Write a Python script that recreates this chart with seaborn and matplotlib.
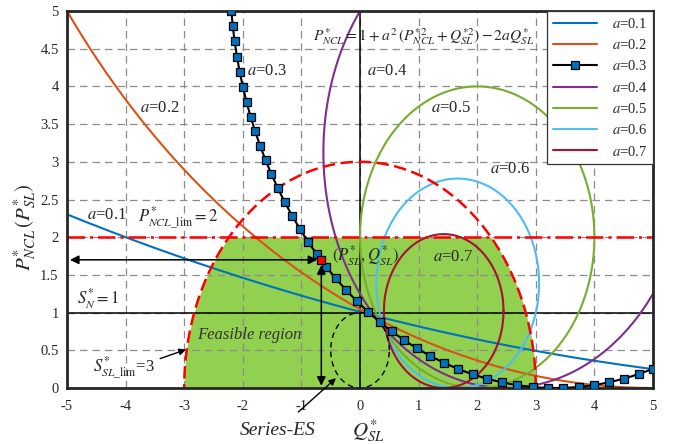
import numpy as np
import pandas as pd
import matplotlib
matplotlib.use("Agg")
import matplotlib.pyplot as plt
import seaborn as sns

# ---- values ------------------------------------------------------------
# coefficient a of the NCL power relation P = 1 + a^2 (P^2 + Q^2) - 2 a Q
a_values = [0.1, 0.2, 0.3, 0.4, 0.5, 0.6, 0.7]
a_labels = ["0.1", "0.2", "0.3", "0.4", "0.5", "0.6", "0.7"]

# limits of the series-connected storage
p_ncl_lim = 2.0      # P*_NCL_lim
s_sl_lim = 3.0       # S*_SL_lim
s_n = 1.0            # S*_N

# operating point (Q*_SL, P*_SL) on the a = 0.3 curve
op_q = -0.66
op_p = 1.70

# Series-ES capability circle
es_center = (0.0, 0.5)
es_radius = 0.5

x_ticks = [-5, -4, -3, -2, -1, 0, 1, 2, 3, 4, 5]
x_tick_labels = ["-5", "-4", "-3", "-2", "-1", "0", "1", "2", "3", "4", "5"]
y_ticks = [0, 0.5, 1, 1.5, 2, 2.5, 3, 3.5, 4, 4.5, 5]
y_tick_labels = ["0", "0.5", "1", "1.5", "2", "2.5", "3", "3.5", "4", "4.5", "5"]

# ---- styling -----------------------------------------------------------
sns.set_style("white")
plt.rcParams["font.family"] = ["Liberation Serif", "DejaVu Serif"]
plt.rcParams["mathtext.fontset"] = "stix"

curve_colors = ["#0072BD", "#D95319", "#000000", "#7E2F8E",
                "#77AC30", "#4DBEEE", "#A2142F"]
text_color = "#262626"

fig = plt.figure(figsize=(6.82, 4.44), dpi=100)
ax = fig.add_axes([67 / 682, 1 - 388 / 444, 586 / 682, 377 / 444])
ax.set_xlim(-5, 5)
ax.set_ylim(0, 5)

# ---- feasible region ---------------------------------------------------
qf = np.linspace(-s_sl_lim, s_sl_lim, 1201)
upper = np.minimum(p_ncl_lim, np.sqrt(np.clip(s_sl_lim ** 2 - qf ** 2, 0, None)))
ax.fill_between(qf, 0, upper, color="#92D050", lw=0, zorder=0.2)

# ---- grid --------------------------------------------------------------
ax.set_axisbelow(True)
ax.grid(True, color="#8c8c8c", lw=0.9, linestyle=(0, (6, 4)))

# reference lines
ax.axhline(s_n, color="black", lw=1.1, zorder=1.5)
ax.axvline(0, color="black", lw=1.1, zorder=1.5)

# ---- NCL curves: circles centred at (1/a, 1/(2a^2)) with radius 1/(2a^2)
for a, lab, col in zip(a_values, a_labels, curve_colors):
    cq, cp, r = 1.0 / a, 1.0 / (2 * a * a), 1.0 / (2 * a * a)
    if r > 3.5:
        # only the lower branch lies inside the window
        lo = max(-5.0, cq - np.sqrt(max(r ** 2 - (5 - cp) ** 2, 0)))
        hi = min(5.0, cq + r)
        q = np.linspace(lo, hi, 3000)
        p = cp - np.sqrt(np.clip(r ** 2 - (q - cq) ** 2, 0, None))
    else:
        th = np.linspace(0, 2 * np.pi, 1500)
        q = cq + r * np.cos(th)
        p = cp + r * np.sin(th)
    df = pd.DataFrame({"q": q, "p": p})
    if a == 0.3:
        sns.lineplot(data=df, x="q", y="p", sort=False, estimator=None, ax=ax,
                     color="black", lw=1.5, marker="s", markersize=5.8,
                     markerfacecolor="#0072BD", markeredgecolor="black",
                     markeredgewidth=0.9, label=r"$a$=" + lab, zorder=3)
        line = ax.lines[-1]
        pts = ax.transData.transform(np.column_stack([q, p]))
        arc = np.sum(np.hypot(*np.diff(pts, axis=0).T))
        diag = np.hypot(*(ax.transAxes.transform([1, 1]) - ax.transAxes.transform([0, 0])))
        n_marks = int(round(arc / 15.3))
        line.set_markevery(arc / n_marks * 0.9999 / diag)
    else:
        sns.lineplot(data=df, x="q", y="p", sort=False, estimator=None, ax=ax,
                     color=col, lw=1.5, label=r"$a$=" + lab, zorder=2)

# limit circle S*_SL_lim and limit line P*_NCL_lim
th = np.linspace(0, np.pi, 600)
ax.plot(s_sl_lim * np.cos(th), s_sl_lim * np.sin(th), color="red", lw=1.8,
        linestyle=(0, (5, 2.2)), zorder=2.5)
ax.axhline(p_ncl_lim, color="red", lw=1.8, linestyle=(0, (7, 2, 1.2, 2)), zorder=2.5)

# Series-ES circle
th2 = np.linspace(0, 2 * np.pi, 400)
ax.plot(es_center[0] + es_radius * np.cos(th2), es_center[1] + es_radius * np.sin(th2),
        color="black", lw=1.0, linestyle=(0, (4, 3)), zorder=2.5)

# operating point with its coordinates
ax.plot([op_q], [op_p], marker="s", markersize=5.8, markerfacecolor="red",
        markeredgecolor="black", markeredgewidth=0.9, zorder=4)
arrow_kw = dict(arrowstyle="<|-|>", color="black", lw=1.1, mutation_scale=13,
                shrinkA=0, shrinkB=0)
ax.annotate("", xy=(op_q - 0.07, op_p), xytext=(-4.95, op_p), arrowprops=arrow_kw, zorder=3)
ax.annotate("", xy=(op_q, op_p - 0.07), xytext=(op_q, 0.03), arrowprops=arrow_kw, zorder=3)

# ---- labels ------------------------------------------------------------
fs = 12
label_pos = {"0.1": (-4.66, 2.30), "0.2": (-3.75, 3.72), "0.3": (-1.93, 4.20),
             "0.4": (0.12, 4.20), "0.5": (1.21, 3.72), "0.6": (2.22, 2.90),
             "0.7": (1.25, 1.74)}
for lab in a_labels:
    x, y = label_pos[lab]
    ax.text(x, y, r"$a$=" + lab, fontsize=fs, color=text_color, ha="left", va="center", zorder=5)

ax.text(-0.80, 4.66, r"$P^{*}_{NCL}=1+a^{2}\,(P^{*2}_{NCL}+Q^{*2}_{SL})-2aQ^{*}_{SL}$",
        fontsize=11.2, color=text_color, ha="left", va="center", zorder=5)
ax.text(-3.79, 2.25, r"$P^{*}_{NCL\_\mathrm{lim}}=2$", fontsize=fs, color=text_color,
        ha="left", va="center", zorder=5)
ax.text(-4.83, 1.19, r"$S^{*}_{N}=1$", fontsize=fs, color=text_color,
        ha="left", va="center", zorder=5)
ax.text(-2.78, 0.70, "Feasible region", fontsize=fs, style="italic", color="#333333",
        ha="left", va="center", zorder=5)
ax.text(-4.56, 0.26, r"$S^{*}_{SL\_\mathrm{lim}}$=3", fontsize=fs, color=text_color,
        ha="left", va="center", zorder=5)
ax.text(-0.48, 1.76, r"$(P^{*}_{SL},Q^{*}_{SL})$", fontsize=fs, color=text_color,
        ha="left", va="center", zorder=5)

small_arrow = dict(arrowstyle="-|>", color="black", lw=1.0, mutation_scale=10,
                   shrinkA=0, shrinkB=0)
ax.annotate("", xy=(-2.97, 0.51), xytext=(-3.41, 0.39), arrowprops=small_arrow, zorder=5)
ax.annotate("Series-ES", xy=(-0.41, 0.13), xytext=(-1.40, -0.56),
            textcoords="data", fontsize=14, style="italic", color=text_color,
            ha="center", va="center", annotation_clip=False,
            arrowprops=dict(arrowstyle="-|>", color="black", lw=1.0, mutation_scale=10,
                            shrinkA=7, shrinkB=0), zorder=5)

ax.set_xlabel("")
ax.set_ylabel("")
ax.text(0.14, -0.56, r"$Q^{*}_{SL}$", fontsize=15, color=text_color,
        ha="center", va="center", clip_on=False)
fig.text(25 / 682, 1 - 227 / 444, r"$P^{*}_{NCL}\,(P^{*}_{SL})$", fontsize=15,
         color=text_color, rotation=90, ha="center", va="center")

# ---- axes cosmetics ----------------------------------------------------
ax.set_xticks(x_ticks)
ax.set_xticklabels(x_tick_labels)
ax.set_yticks(y_ticks)
ax.set_yticklabels(y_tick_labels)
ax.tick_params(axis="both", direction="in", length=3, width=0.8, labelsize=10.5,
               colors=text_color, pad=6)
ax.tick_params(axis="x", pad=9)
for s in ax.spines.values():
    s.set_visible(True)
    s.set_color("#262626")
    s.set_linewidth(2.0)

leg = ax.legend(loc="upper right", borderaxespad=0, fontsize=10.5, frameon=True,
                fancybox=False, edgecolor="#333333", framealpha=1, handlelength=3.0,
                labelspacing=0.5, borderpad=0.4, handletextpad=1.0)
leg.get_frame().set_linewidth(0.9)
for t in leg.get_texts():
    t.set_color(text_color)

fig.savefig("out.png", dpi=100)
